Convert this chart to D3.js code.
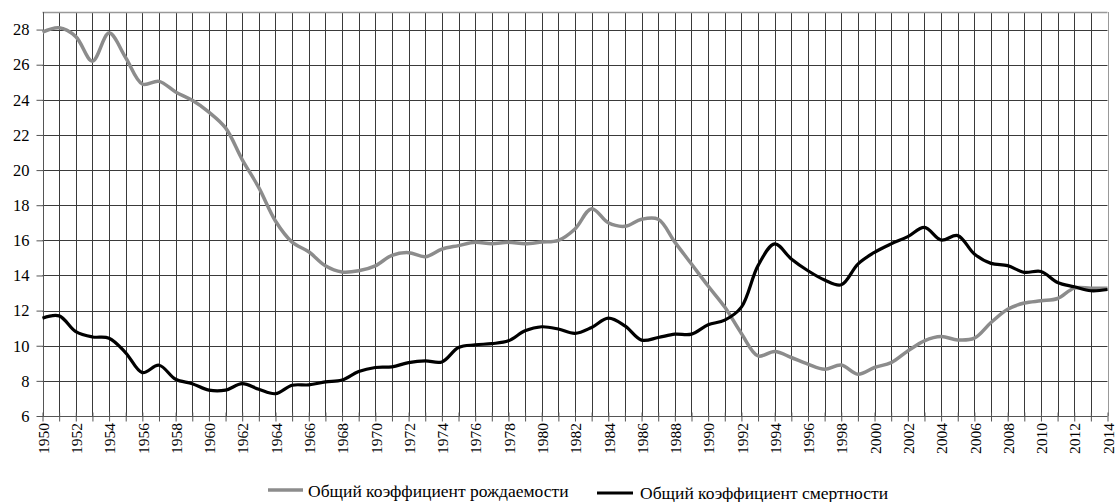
<!DOCTYPE html>
<html><head><meta charset="utf-8">
<script src="https://cdn.jsdelivr.net/npm/d3@7"></script>
<style>body{margin:0;background:#fff}svg{display:block}</style>
</head><body>
<script>
const years = d3.range(1950, 2015);
const birthRate = [27.85,28.1,27.6,26.2,27.8,26.4,24.9,25.05,24.45,23.97,23.3,22.4,20.6,19.0,17.1,15.9,15.35,14.55,14.2,14.27,14.55,15.15,15.3,15.07,15.5,15.7,15.89,15.8,15.89,15.8,15.9,16.0,16.65,17.8,17.0,16.8,17.2,17.2,15.9,14.65,13.4,12.2,10.7,9.42,9.67,9.33,8.95,8.66,8.9,8.38,8.76,9.04,9.7,10.28,10.52,10.33,10.43,11.32,12.08,12.43,12.56,12.69,13.28,13.28,13.28];
const deathRate = [11.57,11.7,10.8,10.5,10.43,9.6,8.47,8.89,8.09,7.84,7.47,7.47,7.84,7.52,7.27,7.75,7.77,7.94,8.05,8.53,8.76,8.8,9.04,9.14,9.08,9.9,10.05,10.12,10.28,10.85,11.08,10.95,10.7,11.04,11.57,11.13,10.32,10.47,10.66,10.66,11.19,11.46,12.2,14.56,15.8,14.94,14.27,13.74,13.47,14.65,15.32,15.8,16.21,16.74,16.02,16.27,15.22,14.69,14.56,14.18,14.23,13.6,13.36,13.13,13.2];
const yTicks = d3.range(6, 29, 2);
const xLabelYears = d3.range(1950, 2015, 2);
const seriesNames = ["Общий коэффициент рождаемости", "Общий коэффициент смертности"];

const W = 1116, H = 502;
const svg = d3.select("body").append("svg").attr("width", W).attr("height", H)
  .style("font-family", "'Liberation Serif','Times New Roman',serif");

const x = d3.scaleLinear().domain([1950, 2014]).range([42.5, 1107.5]);
const y = d3.scaleLinear().domain([6, 29]).range([416, 12]);

const grid = svg.append("g");
grid.selectAll("line.v").data(years.slice(1)).join("line")
  .attr("x1", d => Math.round(x(d)) + 0.5).attr("x2", d => Math.round(x(d)) + 0.5)
  .attr("y1", y(29)).attr("y2", y(6))
  .attr("stroke", d => d === 2014 ? "#999" : "#3a3a3a").attr("stroke-width", 1);
grid.selectAll("line.h").data(yTicks.slice(1)).join("line")
  .attr("x1", x(1950)).attr("x2", x(2014))
  .attr("y1", d => Math.round(y(d)) + 0.5).attr("y2", d => Math.round(y(d)) + 0.5)
  .attr("stroke", "#3a3a3a").attr("stroke-width", 1);
grid.append("line").attr("x1", x(1950)).attr("x2", x(2014))
  .attr("y1", Math.round(y(29)) + 0.5).attr("y2", Math.round(y(29)) + 0.5)
  .attr("stroke", "#999").attr("stroke-width", 1.5);

// y axis
const yAxis = d3.axisLeft(y).tickValues(yTicks).tickSize(7).tickPadding(7).tickFormat(d3.format("d"));
const gy = svg.append("g").attr("transform", `translate(${Math.round(x(1950)) + 0.5},0)`).call(yAxis);
gy.select(".domain").attr("stroke", "#555").attr("d", `M0,${y(29)}V${y(6)}`);
gy.selectAll(".tick line").attr("stroke", "#555");
gy.selectAll(".tick text").attr("font-size", 16.5).attr("fill", "#000")
  .attr("font-family", "'Liberation Serif',serif");

// x axis
const xAxis = d3.axisBottom(x).tickValues(years).tickSize(5).tickFormat("");
const gx = svg.append("g").attr("transform", `translate(0,${Math.round(y(6)) + 0.5})`).call(xAxis);
gx.select(".domain").attr("stroke", "#555").attr("d", `M${x(1950)},0H${x(2014)}`);
gx.selectAll(".tick line").attr("stroke", "#555").attr("y1", -4).attr("y2", 5);
svg.append("g").selectAll("text").data(xLabelYears).join("text")
  .attr("transform", d => `translate(${x(d) + 0.8},${y(6) + 7}) rotate(-90)`)
  .attr("text-anchor", "end").attr("dy", "0.35em").attr("font-size", 15.5).attr("fill", "#000")
  .text(d => d);

// lines
const line = d3.line().x((d, i) => x(years[i])).y(d => y(d)).curve(d3.curveCatmullRom.alpha(0.5));
svg.append("path").datum(birthRate).attr("d", line)
  .attr("fill", "none").attr("stroke", "#8c8c8c").attr("stroke-width", 3.5).attr("stroke-linejoin", "round");
svg.append("path").datum(deathRate).attr("d", line)
  .attr("fill", "none").attr("stroke", "#000").attr("stroke-width", 3.2).attr("stroke-linejoin", "round");

// legend
const leg = svg.append("g");
leg.append("line").attr("x1", 268).attr("x2", 303).attr("y1", 490).attr("y2", 490)
  .attr("stroke", "#8c8c8c").attr("stroke-width", 3.5);
leg.append("text").attr("x", 308).attr("y", 497).attr("font-size", 17.5).text(seriesNames[0]);
leg.append("line").attr("x1", 597).attr("x2", 633).attr("y1", 493).attr("y2", 493)
  .attr("stroke", "#000").attr("stroke-width", 3.2);
leg.append("text").attr("x", 640).attr("y", 499).attr("font-size", 17.5).text(seriesNames[1]);
</script>
</body></html>
